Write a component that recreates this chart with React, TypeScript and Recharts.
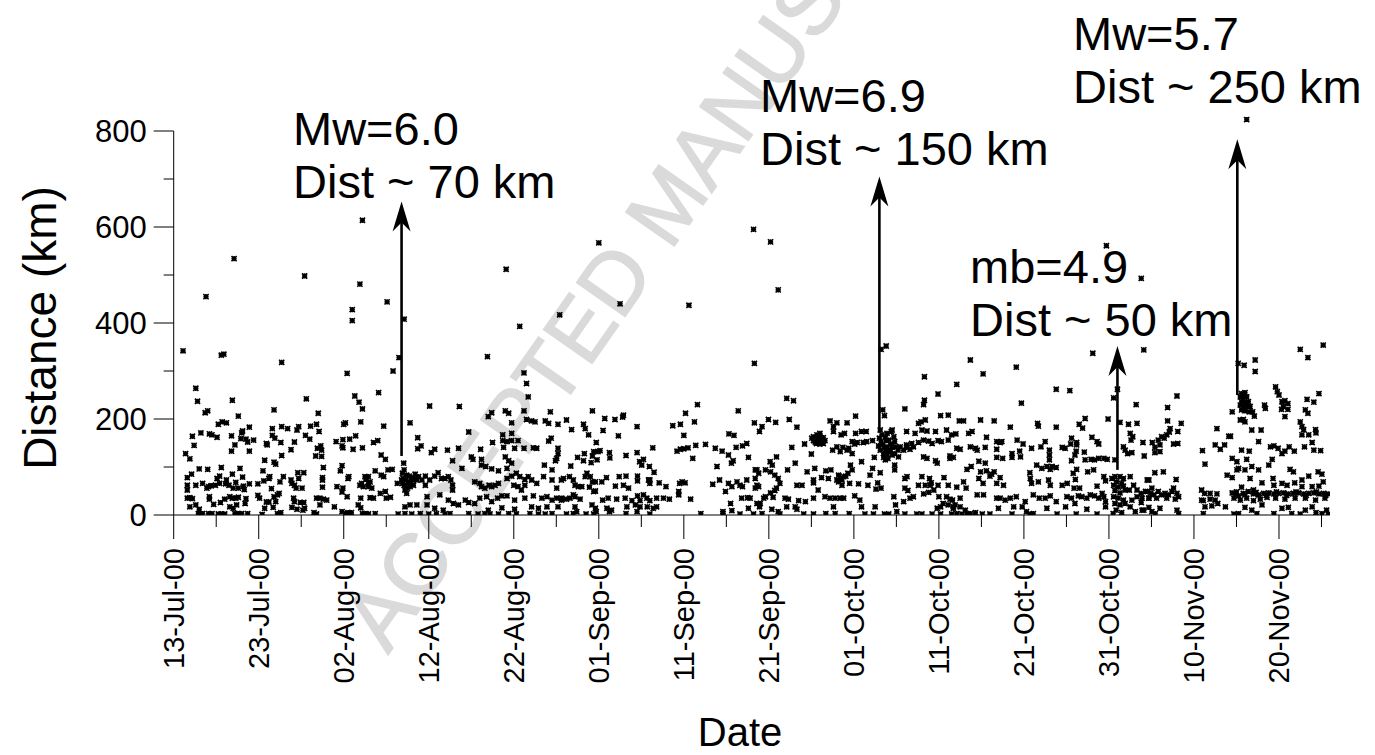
import React from 'react';
import { ScatterChart, Scatter, XAxis, YAxis, ReferenceLine } from 'recharts';

// ---- axis definitions ----
const tickDays = [0, 5, 10, 15, 20, 25, 30, 35, 40, 45, 50, 55, 60, 65, 70, 75, 80, 85, 90, 95, 100, 105, 110, 115, 120, 125, 130, 135];
const tickLabels = ['13-Jul-00', '23-Jul-00', '02-Aug-00', '12-Aug-00', '22-Aug-00', '01-Sep-00', '11-Sep-00', '21-Sep-00', '01-Oct-00', '11-Oct-00', '21-Oct-00', '31-Oct-00', '10-Nov-00', '20-Nov-00'];
const yTicks = [0, 100, 200, 300, 400, 500, 600, 700, 800];

// ---- data: [days since 13-Jul-00, distance km] ----
const outliersHigh = [[1.1,342],[22.2,614],[7.1,534],[15.4,498],[21.9,481],[3.8,455],[25.1,444],[21.0,428],[21.0,405],[27.1,408],[5.6,333],[5.9,335],[12.7,318],[26.5,328],[25.8,300],[20.4,295],
[50.0,567],[39.1,512],[52.5,440],[60.6,437],[45.4,417],[40.7,393],[36.9,330],[41.2,296],
[68.2,595],[70.2,569],[71.1,469],[68.3,316],[83.8,352],[83.2,345],[93.7,323],[95.2,294],[99.1,308],[88.3,288],
[126.2,824],[109.7,561],[113.8,493],[108.1,337],[114.1,344],[132.5,345],[135.2,354],[133.4,328],[125.2,316],[125.9,312],[127.2,323],[127.2,299]];

const ptsJul = [[2.6,264],[2.8,237],[6.9,239],[15.6,242],[21.3,248],[21.8,235],[22.2,221],[11.8,219],[3.7,213],[4.0,217],[17.0,212],[7.6,206],[5.25,189],[5.7,194],[6.2,192],[3.2,171],[4.2,169],[4.5,167],[2.2,164],[6.8,165],[5.1,162],[8.1,175],[8.0,171],[8.9,183],[11.6,180],[12.7,184],[13.4,180],[14.7,184],[14.5,177],[16.1,185],[16.8,189],[17.1,174],[15.5,166],[16.0,158],[11.6,166],[11.9,160],[7.9,159],[8.5,158],[8.7,152],[9.4,156],[6.8,133],[7.2,146],[2.4,145],[1.4,128],[1.9,117],[8.9,133],[10.9,149],[11.0,146],[12.6,151],[13.8,136],[14.2,152],[16.9,139],[17.3,144],[17.4,135],[16.7,123],[17.4,122],[12.7,124],[10.7,114],[11.8,110],[12.0,106],[19.1,153],[19.9,157],[19.8,144],[19.9,140],[20.7,158],[21.4,165],[21.1,137],[22.2,140],[22.0,194],[20.2,192],[20.0,189],
[3.0,96],[4.0,95],[5.6,99],[2.1,85],[1.6,78],[1.6,62],[1.6,52],[2.6,62],[3.4,66],[4.1,59],[4.4,61],[3.9,56],[5.1,76],[5.4,81],[4.9,62],[5.4,66],[6.1,65],[6.5,62],[6.2,73],[6.9,85],[7.8,97],[8.1,79],[7.3,68],[7.6,56],[8.2,60],[7.0,56],[8.9,65],[8.3,53],[9.9,65],[10.5,92],[10.6,71],[11.2,76],[11.3,80],[11.5,55],[12.5,69],[12.9,80],[13.8,73],[13.9,66],[14.2,62],[14.6,88],[15.3,88],[14.7,76],[15.1,56],[14.4,56],[17.6,99],[17.5,78],[17.5,73],[17.5,58],[19.2,59],[19.6,92],[19.8,103],[20.6,80],[20.5,76],[19.8,48],[21.9,62],[22.1,66],[22.5,80],[22.6,74],[22.9,66],[22.3,59],
[1.6,35],[1.9,36],[2.2,34],[1.9,17],[2.6,21],[3.0,12],[2.9,3],[3.4,3],[3.2,2],[4.2,38],[4.2,33],[4.1,3],[4.5,3],[4.7,22],[5.25,2],[5.6,2],[6.0,2],[5.5,26],[6.0,33],[6.6,38],[6.9,35],[7.3,35],[7.6,37],[6.6,17],[7.0,14],[7.4,21],[7.2,3],[7.6,3],[8.0,3],[8.5,34],[8.4,24],[8.7,3],[9.9,41],[10.1,35],[10.9,27],[11.2,27],[10.7,14],[10.4,1],[11.7,16],[12.0,28],[12.2,3],[12.6,5],[11.8,38],[12.2,42],[12.4,45],[14.1,35],[14.2,28],[13.9,16],[14.5,12],[15.2,10],[15.4,14],[14.9,26],[15.3,26],[16.5,5],[16.8,2],[16.8,35],[17.2,35],[17.6,33],[18.0,31],[17.2,21],[18.9,17],[20.4,38],[19.8,7],[20.2,3],[20.5,5],[20.9,5],[21.7,21],[22.0,15],[22.0,35],[22.2,3],[22.6,3],[19.9,56]];

const ptsAug = [[24.1,255],[41.5,274],[41.7,246],[30.1,227],[33.6,226],[27.8,192],[24.7,185],[23.5,151],[24.0,155],[24.4,125],[24.9,116],[28.7,161],[28.7,138],[29.1,144],[30.3,130],[30.7,137],[32.2,135],[33.5,139],[32.8,113],[34.7,173],[35.0,121],[35.2,116],[36.1,137],[37.0,205],[37.4,213],[39.0,217],[39.4,212],[39.75,192],[41.2,217],[41.5,199],[42.1,196],[42.5,194],[39.75,170],[38.7,167],[38.7,155],[39.2,153],[39.75,155],[40.5,155],[37.5,151],[38.8,141],[39.0,121],[40.1,139],[41.2,139],[42.3,140],[42.7,139],[39.4,113],[39.75,108],[43.7,196],[44.1,191],[44.3,215],[45.2,189],[44.1,154],[44.4,160],[45.2,139],[45.2,128],[45.05,118],[44.9,113],[43.6,104],[44.5,94],[36.2,116],[36.2,104],[36.7,101],[37.4,96],[38.2,92],[39.2,97],
[22.9,80],[23.1,69],[23.7,92],[24.4,83],[24.7,80],[25.2,94],[25.7,95],[22.9,59],[23.3,56],[24.3,45],[24.9,49],[23.1,36],[23.5,35],[25.0,35],[25.5,37],
[26.9,87],[27.1,94],[27.4,83],[27.7,81],[28.0,78],[28.3,76],[28.6,73],[27.0,76],[27.3,73],[27.6,69],[27.9,66],[28.2,62],[27.1,62],[27.4,59],[26.9,66],[27.2,52],[27.5,56],[28.4,85],[28.8,80],[29.2,73],[26.8,73],[27.8,59],[28.1,73],[27.05,108],[26.3,66],[27.4,45],
[29.6,81],[30.1,73],[30.7,81],[29.6,62],[29.8,38],[31.1,88],[31.5,76],[31.9,76],[32.3,80],[32.6,73],[32.8,62],[32.8,52],[31.3,42],[32.3,31],[32.9,24],[33.5,21],[33.9,97],[34.3,31],[34.7,26],[35.4,69],[36.0,66],[36.2,59],[36.6,56],[37.1,62],[37.4,59],[37.8,62],[38.2,66],[35.4,24],[36.0,35],[36.8,38],[37.4,28],[38.1,35],[38.6,40],[39.2,76],[39.75,81],[40.3,87],[40.7,80],[41.3,74],[41.7,80],[40.0,62],[40.5,59],[41.3,62],[40.9,52],[39.2,40],[40.1,31],[41.3,35],[42.3,40],[42.1,73],[42.7,66],[43.5,80],[44.5,73],[45.05,56],[45.6,73],[43.3,35],[43.9,38],[44.5,31],[45.05,35],[45.6,31],[42.1,17],[42.9,14],[43.9,17],[45.2,17],
[22.9,2],[23.7,3],[26.4,2],[27.2,3],[28.0,2],[29.0,3],[30.0,2],[30.9,3],[31.9,2],[32.5,3],[34.7,3],[35.8,2],[36.6,3],[37.2,2],[38.2,2],[39.4,3],[40.3,2],[41.9,3],[42.9,2],[43.7,2],[44.5,3],
[30.7,14],[31.7,10],[37.0,10],[38.6,15],[40.1,12],[27.2,17],[27.8,21],[28.6,21],[29.8,21]];

const ptsSep = [[61.6,230],[49.25,217],[52.9,208],[52.8,204],[46.2,198],[50.7,201],[51.9,199],[60.2,212],[66.4,217],[61.25,194],[59.6,189],[58.7,186],[48.2,189],[48.4,180],[46.8,178],[50.5,176],[54.5,184],[68.3,192],[48.8,167],[52.3,165],[60.0,166],[65.3,169],[65.9,166],[49.7,151],[62.55,147],[61.4,145],[60.5,140],[60.0,138],[59.6,137],[59.2,133],[56.35,140],[54.5,130],[53.2,124],[51.25,130],[51.3,119],[50.15,134],[49.9,132],[49.4,132],[49.25,123],[49.8,115],[49.1,109],[48.3,128],[48.2,113],[47.5,120],[46.7,102],[63.7,139],[64.5,133],[65.25,125],[66.15,141],[66.9,144],[67.4,149],[67.6,120],[65.8,113],[65.6,108],[63.9,101],[61.05,118],[54.8,111],[55.25,116],[55.05,104],[55.95,101],[56.5,89],[56.0,73],[68.6,94],
[45.85,76],[46.55,80],[47.0,73],[47.2,62],[47.6,59],[48.0,59],[48.4,80],[49.0,80],[49.25,69],[48.6,87],[49.6,69],[50.35,69],[50.9,78],[51.95,60],[52.4,80],[52.9,62],[53.2,81],[53.5,56],[54.55,81],[54.55,71],[56.0,66],[55.85,73],[57.1,67],[57.9,59],[48.9,58],[49.4,49],[49.6,50],
[45.65,35],[46.2,33],[46.6,35],[47.2,38],[47.0,42],[47.8,33],[50.45,31],[51.1,35],[52.1,33],[53.1,35],[53.9,30],[54.55,40],[54.85,30],[55.25,42],[55.65,35],[56.0,30],[56.8,35],[57.6,35],[58.3,33],[59.4,42],[59.4,49],[59.5,66],[59.8,69],[60.15,67],[60.8,33],
[47.2,17],[49.2,21],[49.6,14],[50.95,14],[51.5,10],[53.3,17],[54.3,21],[54.85,17],[55.7,17],[56.4,14],[56.8,17],
[46.2,2],[47.0,3],[47.4,7],[48.5,2],[49.4,2],[49.7,7],[51.25,7],[53.2,3],[54.5,7],[56.0,2],[62.0,3],[64.6,3],[66.6,2],[68.2,2],
[63.4,64],[64.2,73],[64.9,49],[65.25,66],[65.65,59],[66.25,69],[66.6,62],[66.9,59],[67.4,73],[68.4,56],[68.4,76],[65.5,24],[66.8,35],[67.5,36],[67.8,35],[67.6,14],[68.6,24],[68.9,17],[64.6,7],[65.65,9]];

const ptsOct1 = [[89.9,252],[88.2,230],[88.3,239],[72.1,243],[72.9,238],[86.0,221],[83.4,219],[83.6,207],[80.2,206],[90.2,207],[91.1,208],[69.95,199],[70.8,193],[72.4,199],[77.2,196],[78.0,192],[79.2,192],[87.6,191],[87.9,194],[88.4,198],[69.2,184],[68.9,174],[73.3,183],[77.6,184],[77.6,174],[78.5,167],[78.9,170],[80.2,170],[80.9,174],[81.45,174],[84.5,177],[86.2,174],[87.2,170],[88.0,177],[88.6,175],[89.6,174],[90.9,177],
[75.25,163],[75.65,167],[76.0,164],[76.4,161],[76.6,155],[76.4,149],[76.0,148],[75.6,149],[75.25,155],[75.8,158],[76.2,156],[75.6,160],[75.45,152],[76.0,170],[75.05,160],
[74.2,148],[72.7,141],[75.0,127],[77.5,135],[78.0,142],[78.4,132],[78.7,141],[79.2,135],[79.8,128],[79.4,139],[79.8,153],[80.1,148],[80.4,151],[81.1,151],[81.5,153],[82.2,155],[82.4,120],[80.9,111],[79.6,104],[79.8,94],[79.3,87],[78.8,80],[78.4,76],[78.0,73],[73.1,108],[70.9,121],[70.15,111],[70.4,104],
[83.0,160],[83.2,153],[83.4,146],[83.6,139],[83.8,132],[83.9,125],[84.0,118],[83.7,163],[84.1,156],[84.3,148],[84.5,141],[84.3,132],[84.5,125],[83.5,120],[83.1,135],[82.9,144],[83.3,167],[83.9,170],[84.4,174],[84.7,163],[84.8,153],[83.9,142],[83.5,128],[84.1,135],[83.7,115],[84.9,142],[85.2,135],[85.45,142],[85.85,135],[86.2,141],[86.6,137],[87.0,142],[85.25,121],[84.8,128],[83.1,177],[83.8,155],
[86.2,146],[86.8,149],[87.6,151],[88.2,156],[88.8,154],[89.2,149],[89.9,155],[90.3,153],[91.1,156],[91.3,123],[91.7,120],[88.2,121],[88.6,118],[89.6,113],[89.8,108],[84.8,104],[84.8,94],
[68.4,94],[68.8,87],[69.6,94],[70.2,90],[70.7,83],[71.1,76],[71.3,66],[68.6,62],[68.8,59],[72.2,94],[73.3,62],[73.9,62],[74.5,90],[75.4,97],[75.25,73],[75.25,67],[76.2,78],[76.7,92],[77.3,94],[77.0,76],[78.2,83],[78.2,69],[78.6,73],[79.05,81],[78.6,62],[79.5,66],[80.55,65],[81.65,62],[82.2,97],[82.8,67],[83.1,88],[81.9,83],[75.8,52],[70.7,51],[70.9,56],[70.2,46],[69.6,38],
[69.4,35],[70.5,37],[71.9,35],[72.3,33],[73.5,30],[74.3,28],[75.25,35],[76.6,38],[77.2,35],[77.8,35],[78.4,35],[78.8,35],
[80.1,40],[80.7,31],[80.9,17],[82.6,54],[83.2,56],[84.7,38],[86.0,56],[86.35,51],[85.85,28],[86.6,35],[87.0,38],[87.6,62],[88.2,44],[88.4,62],[88.8,47],[89.0,62],[89.4,52],[89.9,62],[90.0,38],[90.6,78],[90.9,38],[91.1,62],[86.25,80],[86.0,76],[88.0,80],[88.9,76],[89.1,67],
[68.98,24],[69.2,3],[70.35,12],[71.1,7],[71.3,2],[72.1,17],[73.1,17],[73.3,12],[74.1,2],[75.25,2],[76.7,3],[77.6,17],[77.8,3],[79.45,3],[81.3,2],[82.3,2],[83.6,2],[84.1,2],[85.05,7],[86.0,2],[87.4,2],[88.0,2],[89.2,2],[90.2,2],[91.5,2],[89.8,14],[90.2,17],[90.5,24],[91.1,21],[91.7,17],[82.5,17],[84.9,21]];

const ptsOct2 = [[92.1,272],[103.8,262],[105.4,259],[99.7,233],[110.55,244],[111.0,262],[113.2,230],[92.4,196],[92.9,196],[94.9,198],[96.5,196],[98.4,183],[101.6,191],[101.7,185],[103.8,183],[106.5,189],[106.9,181],[107.2,201],[109.9,200],[111.3,193],[112.3,189],[113.3,191],[91.5,167],[92.0,169],[93.5,170],[93.9,174],[95.6,162],[96.8,153],[97.2,151],[97.4,153],[99.2,156],[99.9,148],[100.9,139],[102.0,142],[102.5,153],[103.0,135],[104.5,141],[104.85,139],[105.6,160],[105.5,148],[106.2,146],[106.2,151],[106.0,125],[106.15,133],[105.6,113],[107.1,131],[107.2,115],[108.0,162],[108.6,153],[108.8,148],[92.1,139],[92.5,137],[93.7,142],[94.3,139],[94.5,135],[95.45,141],[96.8,137],[91.3,118],[94.7,112],[95.45,108],[96.8,120],[97.5,118],[98.6,128],[98.6,120],[99.5,133],[99.6,121],[101.5,104],[102.1,97],[102.7,101],[103.1,95],[103.3,101],[103.8,99],[103.0,115],[103.0,125],[106.2,95],[107.9,116],[108.3,115],[108.8,118],[109.4,118],[109.8,116],[110.7,115],[111.7,142],[111.9,135],[112.2,128],[112.7,130],[112.8,163],[112.5,170],[112.6,156],[114.15,123],[114.0,151],
[93.3,95],[93.8,101],[94.9,90],[95.6,92],[96.0,81],[96.2,85],[96.5,90],[97.2,78],[97.6,62],[96.8,66],[100.7,88],[100.75,76],[100.9,66],[101.7,69],[102.9,73],[103.1,62],[104.5,62],[105.1,66],[105.8,87],[106.05,74],[105.9,56],[106.55,56],[107.5,90],[108.2,94],[108.6,60],[109.4,80],[109.6,71],[92.9,69],[93.2,56],[94.7,76],[95.2,66],[95.25,42],[94.5,42],[92.1,58],[91.6,31],[91.9,21],[91.3,33],[92.5,35],
[96.8,35],[97.2,35],[97.8,31],[98.4,35],[99.1,38],[100.15,28],[101.1,42],[101.8,35],[102.5,35],[103.1,40],[103.8,28],[105.05,38],[105.6,35],[106.0,24],[106.4,40],[106.8,38],[107.4,35],[107.8,42],[108.3,40],[108.8,35],[109.2,45],[109.4,38],[109.6,28],
[110.35,76],[110.7,80],[111.3,80],[111.7,76],[110.9,69],[111.5,66],[110.55,62],[111.1,58],[111.7,60],[110.7,51],[111.3,46],[111.9,52],[110.55,38],[111.1,35],[111.7,31],[110.7,24],[111.3,21],[111.9,24],[110.85,10],[111.5,5],[110.5,3],
[112.5,80],[112.4,52],[112.9,62],[113.3,52],[113.8,45],[114.3,49],[114.7,35],[113.9,35],[113.3,38],[112.7,31],[112.5,17],[114.1,10],[113.8,26],[114.5,73],
[91.7,14],[92.5,17],[93.1,10],[93.7,3],[94.3,5],[95.1,2],[96.0,2],[97.0,14],[98.6,2],[98.8,17],[99.8,17],[100.3,7],[100.7,2],[101.1,3],[102.7,14],[103.9,2],[104.9,17],[106.15,2],[107.4,12],[108.6,2],[109.6,17],[113.1,7],[113.9,10],[92.1,3],[92.7,2],[93.3,2]];

const ptsNov = [[129.6,267],[129.8,257],[130.0,250],[130.35,236],[130.7,238],[131.05,232],[130.5,226],[131.05,220],[130.3,220],[130.7,205],[133.3,241],[134.1,235],[134.7,253],[133.1,219],[133.4,212],[132.5,194],[132.7,184],[132.9,178],[132.7,167],[133.5,167],[134.3,178],[134.35,171],[133.9,151],[133.0,142],[134.1,135],[134.9,134],
[125.6,253],[126.0,255],[125.45,246],[125.8,243],[126.2,246],[125.6,236],[126.0,234],[126.4,236],[125.45,229],[125.8,226],[126.2,227],[126.6,226],[125.6,219],[126.0,217],[126.5,215],[126.9,215],[127.1,206],[125.45,198],[125.8,199],[126.0,194],[124.5,215],[128.3,229],[128.4,222],
[126.8,177],[127.9,177],[127.6,153],[116.9,224],[118.0,248],[116.9,196],[117.2,180],[117.1,173],[116.8,167],[116.5,160],[116.2,163],[115.8,156],[115.1,151],[116.0,146],[115.4,141],[116.0,132],[115.4,130],[117.6,148],[118.1,149],[118.5,191],[118.1,174],
[122.7,180],[122.5,146],[123.1,137],[123.6,146],[121.0,134],[124.1,164],[124.3,164],[121.3,106],
[124.5,118],[125.05,111],[125.25,97],[125.05,94],[126.0,94],[125.6,135],[126.5,133],[126.2,116],[126.8,101],[127.6,94],[128.8,104],[129.2,116],
[129.0,142],[129.4,144],[129.9,139],[130.35,128],[130.7,133],[131.2,142],[131.8,133],
[131.3,95],[131.7,90],[132.7,73],[133.5,81],[134.6,90],[135.05,85],[135.2,69],[134.7,60],[133.9,59],[132.7,59],[131.85,67],
[115.4,88],[117.9,74],[123.9,83],[124.5,78],[126.6,76],[125.6,58],[127.0,52],[128.0,67],[129.3,76],[129.4,62],[130.35,66],[130.95,62],
[114.5,49],[114.9,45],[115.25,42],[115.8,49],[116.2,42],[116.6,45],[117.0,42],[117.4,49],[118.0,45],[118.2,38],[114.7,35],[115.6,35],[116.8,35],[117.8,33],[115.05,56],[117.6,56],
[120.9,52],[121.25,45],[121.9,45],[122.7,44],[121.1,30],[121.9,33],[122.5,31],[120.9,31],
[124.5,46],[124.9,44],[125.25,40],[125.8,45],[126.4,49],[127.0,44],[127.6,42],[128.2,45],[128.8,46],[129.4,44],[129.95,45],[130.55,46],[131.1,44],[131.7,45],[132.3,46],[132.9,44],[133.5,45],[134.1,46],[134.7,44],[135.25,45],[135.8,44],[124.7,35],[125.45,31],[126.2,35],[127.0,30],[127.8,33],[128.6,37],[129.6,35],[130.7,33],[131.9,35],[133.1,35],[134.3,31],[135.4,35],
[125.0,48],[126.0,42],[127.3,47],[128.5,41],[129.7,48],[130.9,41],[132.0,48],[133.2,41],[134.4,48],[135.5,41],
[114.7,16],[115.05,7],[115.45,3],[116.0,14],[118.0,10],[118.2,3],[121.1,3],[121.3,17],[122.1,19],[122.8,24],[123.7,17],[124.7,2],[125.25,3],[126.0,16],[126.8,10],[127.4,3],[128.0,21],[129.4,3],[130.35,14],[131.1,16],[131.5,3],[132.5,2],[133.1,10],[133.9,17],[134.35,5],[135.05,3],[135.6,10],[135.8,2],
[116.4,90],[114.7,73]];

// ---- annotations: event arrows [day, kmBottom, kmTop] and labels ----
const arrows = [[26.8, 123, 653], [83.0, 174, 705], [111.0, 94, 352], [125.1, 250, 783]];
const eventLabels = [
  ['Mw=6.0', 'Dist ~ 70 km'],
  ['Mw=6.9', 'Dist ~ 150 km'],
  ['mb=4.9', 'Dist ~ 50 km'],
  ['Mw=5.7', 'Dist ~ 250 km'],
];

const rows = [...outliersHigh, ...ptsJul, ...ptsAug, ...ptsSep, ...ptsOct1, ...ptsOct2, ...ptsNov].map(([day, km]) => ({ day, km }));

const FONT = '"Liberation Sans", Arial, Helvetica, sans-serif';

const XTick = (props: any) => {
  const { x, y, payload } = props;
  const v = payload.value;
  const major = v % 10 === 0;
  const len = major ? 24 : 12;
  const label = major ? tickLabels[v / 10] : null;
  const ty = y + 33;
  return (
    <g>
      <line x1={x} x2={x} y1={y} y2={y + len} stroke="#000" strokeWidth={1} />
      {label && (
        <text x={x} y={ty} transform={`rotate(-90 ${x} ${ty})`} textAnchor="end" dominantBaseline="central" fontSize={29} fontFamily={FONT} fill="#000">
          {label}
        </text>
      )}
    </g>
  );
};

const YTick = (props: any) => {
  const { x, y, payload } = props;
  const v = payload.value;
  const major = v % 200 === 0;
  const len = major ? 20 : 10;
  return (
    <g>
      <line x1={x - len} x2={x} y1={y} y2={y} stroke="#000" strokeWidth={1} />
      {major && (
        <text x={x - 27} y={y} textAnchor="end" dominantBaseline="central" fontSize={31} fontFamily={FONT} fill="#000">
          {v}
        </text>
      )}
    </g>
  );
};

const Marker = (props: any) => {
  const { cx, cy } = props;
  if (cx == null || cy == null) return null;
  const r = 2.6;
  return (
    <path
      d={`M${cx - r},${cy - r}L${cx + r},${cy + r}M${cx - r},${cy + r}L${cx + r},${cy - r}M${cx},${cy - r}L${cx},${cy + r}M${cx - r},${cy}L${cx + r},${cy}`}
      stroke="#000"
      strokeWidth={1.6}
    />
  );
};

const ArrowShape = (props: any) => {
  const { x1, y1, x2, y2 } = props;
  const tipY = Math.min(y1, y2);
  const baseY = Math.max(y1, y2);
  const x = x1;
  return (
    <g>
      <line x1={x} x2={x} y1={baseY} y2={tipY + 20} stroke="#000" strokeWidth={2.6} />
      <path d={`M${x},${tipY}L${x + 9},${tipY + 30}L${x},${tipY + 21}L${x - 9},${tipY + 30}Z`} fill="#000" />
    </g>
  );
};

const labelPos = [
  [293, 145],
  [760, 112],
  [970, 283],
  [1073, 50],
];

export default function App() {
  return (
    <div style={{ position: 'absolute', left: 0, top: 0, width: 1375, height: 755, background: '#fff' }}>
      <svg width={1375} height={755} style={{ position: 'absolute', left: 0, top: 0 }}>
        <text
          x={388}
          y={655}
          transform="rotate(-55 388 655)"
          fontSize={86}
          fontFamily={FONT}
          fill="#dadada"
          stroke="#dadada"
          strokeWidth={1.5}
        >
          ACCEPTED MANUSCRIPT
        </text>
      </svg>
      <div style={{ position: 'absolute', left: 0, top: 0 }}>
        <ScatterChart width={1375} height={755} margin={{ top: 116.6, right: 45, bottom: 0, left: 0 }}>
          <XAxis
            type="number"
            dataKey="day"
            domain={[0, 136]}
            allowDataOverflow
            ticks={tickDays}
            interval={0}
            tick={<XTick />}
            tickLine={false}
            tickSize={0}
            tickMargin={0}
            axisLine={{ stroke: '#000', strokeWidth: 1 }}
            height={240}
          />
          <YAxis
            type="number"
            dataKey="km"
            domain={[0, 830]}
            allowDataOverflow
            ticks={yTicks}
            interval={0}
            tick={<YTick />}
            tickLine={false}
            tickSize={0}
            tickMargin={0}
            axisLine={false}
            width={173.7}
          />
          <ReferenceLine segment={[{ x: 0, y: 0 }, { x: 0, y: 800 }]} stroke="#000" strokeWidth={1} ifOverflow="visible" />
          <Scatter data={rows} dataKey="km" shape={<Marker />} isAnimationActive={false} />
          {arrows.map(([d, lo, hi], i) => (
            <ReferenceLine key={i} segment={[{ x: d, y: lo }, { x: d, y: hi }]} ifOverflow="visible" shape={(p: any) => <ArrowShape {...p} />} />
          ))}
        </ScatterChart>
      </div>
      <svg width={1375} height={755} style={{ position: 'absolute', left: 0, top: 0, pointerEvents: 'none' }}>
        {eventLabels.map(([a, b], i) => (
          <g key={i} fontSize={47} fontFamily={FONT} fill="#000">
            <text x={labelPos[i][0]} y={labelPos[i][1]}>{a}</text>
            <text x={labelPos[i][0]} y={labelPos[i][1] + 53}>{b}</text>
          </g>
        ))}
        <text x={40} y={328} transform="rotate(-90 40 328)" textAnchor="middle" dominantBaseline="central" fontSize={46} fontFamily={FONT} fill="#000">
          Distance (km)
        </text>
        <text x={740} y={732} textAnchor="middle" dominantBaseline="central" fontSize={40} fontFamily={FONT} fill="#000">
          Date
        </text>
      </svg>
    </div>
  );
}
